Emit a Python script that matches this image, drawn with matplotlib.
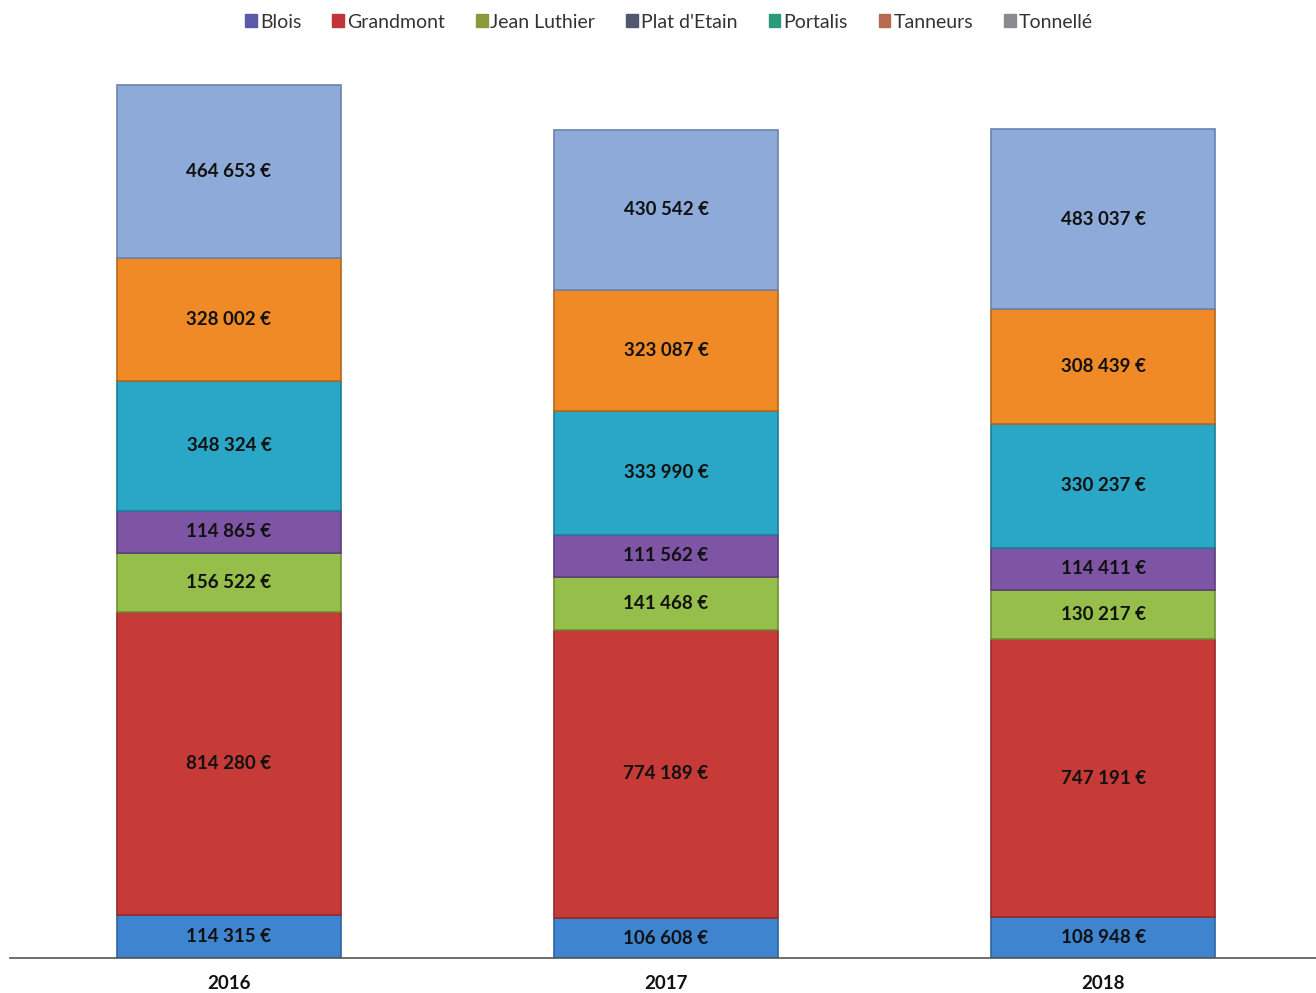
import matplotlib.pyplot as plt
import numpy as np

years = ['2016', '2017', '2018']
series = ['Blois', 'Grandmont', 'Jean Luthier', "Plat d'Etain", 'Portalis', 'Tanneurs', 'Tonnellé']

blois = [114315, 106608, 108948]
grandmont = [814280, 774189, 747191]
jean_luthier = [156522, 141468, 130217]
plat_etain = [114865, 111562, 114411]
portalis = [348324, 333990, 330237]
tanneurs = [328002, 323087, 308439]
tonnelle = [464653, 430542, 483037]

values = [blois, grandmont, jean_luthier, plat_etain, portalis, tanneurs, tonnelle]
colors = ['#3f84cf', '#c63a38', '#95be4a', '#7e55a4', '#2aa6c6', '#f08a27', '#8eaad9']
edges = ['#2f64a0', '#982a28', '#6f8f35', '#5c3d7a', '#1e7d96', '#b8661c', '#6b83ab']
legend_colors = ['#5a5aa8', '#c0343a', '#8a9a3a', '#505870', '#2a9a78', '#b86a50', '#8a8a90']


def fmt(v):
    return f'{v:,}'.replace(',', ' ') + ' €'


plt.rcParams['font.family'] = ['Lato', 'DejaVu Sans']

fig = plt.figure(figsize=(13.16, 9.93), dpi=100)
ax = fig.add_axes([10 / 1316, 35 / 993, 1 - 10 / 1316, (958 - 63) / 993])

x = np.arange(len(years))
bottom = np.zeros(len(years))
for name, vals, c, ec in zip(series, values, colors, edges):
    ax.bar(x, vals, width=0.513, bottom=bottom, color=c, edgecolor=ec, linewidth=1.2, label=name)
    for xi, b, v in zip(x, bottom, vals):
        ax.text(xi, b + v / 2, fmt(v), ha='center', va='center', fontsize=13.5,
                fontweight='bold', color='#111111')
    bottom += np.array(vals)

ax.set_xlim(-0.501, 2.487)
ax.set_ylim(0, 2400000)
ax.set_xticks(x)
ax.set_xticklabels(years, fontsize=13.5, fontweight='bold', color='#111111')
ax.tick_params(axis='x', length=0, pad=12)
ax.set_yticks([])
for s in ['top', 'right', 'left']:
    ax.spines[s].set_visible(False)
ax.spines['bottom'].set_color('#555555')
ax.spines['bottom'].set_linewidth(1.2)

handles = [plt.Rectangle((0, 0), 1, 1, color=c) for c in legend_colors]
fig.legend(handles, series, loc='center', bbox_to_anchor=(669 / 1316, 1 - 22 / 993), ncol=7,
           frameon=False, fontsize=14, handlelength=0.6, handleheight=0.6,
           handletextpad=0.15, columnspacing=1.6, labelcolor='#333333')

fig.savefig('out.png', dpi=100)
